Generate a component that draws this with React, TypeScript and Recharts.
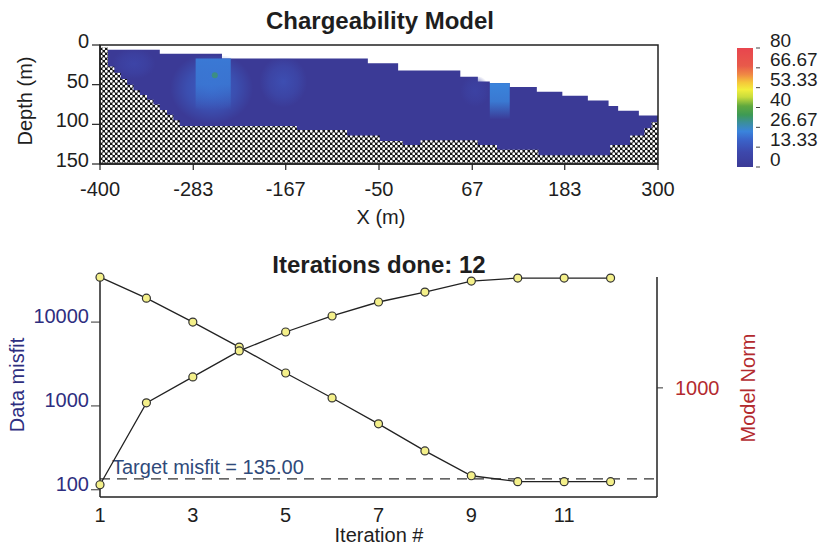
import React from "react";
import {
  ComposedChart, Area, Line, XAxis, YAxis, ReferenceArea, ReferenceDot,
  ReferenceLine, BarChart, Bar,
} from "recharts";

const FONT = "'Liberation Sans', Arial, sans-serif";
const INK = "#1e1e1e";
const NAVY = "#2e2e80";
const RED = "#b32a2e";

// ---- chargeability section ----
const xTicks = [-400, -283, -167, -50, 67, 183, 300];
const depthTicks = [0, 50, 100, 150];
// ground surface (top of model), step starts
const surfaceX = [-390, -325, -247, -64, -26, 52, 74, 89, 114, 148, 180, 212, 238, 250, 276, 300];
const surfaceDepth = [6, 11, 17, 23, 32, 40, 46, 48, 53, 59, 64, 70, 77, 83, 89, 89];
// depth of investigation (hatched below)
const doiX = [-400, -390, -382, -374, -366, -358, -350, -341, -333, -325, -316, -308, -300, -153, -90, -49, -20, 2, 74, 98, 150, 240, 265, 283, 292, 300];
const doiDepth = [3, 27, 35, 43, 50, 57, 63, 69, 75, 82, 88, 95, 102, 107, 114, 121, 126, 120, 126, 132, 139, 126, 114, 105, 97, 97];
// anomalies: extents and chargeability
const anomX1 = [-385, -312, -280, -200, 89, 52];
const anomX2 = [-330, -208, -236, -140, 114, 89];
const anomTop = [6, 14, 17, 17, 48, 40];
const anomBottom = [45, 104, 82, 82, 94, 80];
const anomValue = [8, 18, 22, 12, 24, 6];
const coreAnoms = [2, 4];
const peakX = -256;
const peakDepth = 38;
const peakValue = 34;

// ---- colour bar ----
const cbarTicks = [0, 13.33, 26.67, 40, 53.33, 66.67, 80];
const cbarStopVals = [0, 10, 18, 24, 30, 35, 41, 47, 52, 57, 62, 68, 80];
const cbarStopCols = ["#3b3a96", "#3d48ac", "#3b62c8", "#3a84dc", "#3b8f9a", "#3d9a55", "#5fa83e", "#c8dc3c", "#f2ee3c", "#f5c63a", "#f08a44", "#e85a4a", "#e8454e"];

// ---- inversion convergence ----
const iterations = [1, 2, 3, 4, 5, 6, 7, 8, 9, 10, 11, 12];
const dataMisfit = [34300, 19300, 10000, 5030, 2470, 1245, 611, 291, 147, 125, 125, 125];
const modelNorm = [70, 663, 1352, 2757, 4640, 7200, 10570, 13900, 18800, 20400, 20400, 20400];
const iterTicks = [1, 3, 5, 7, 9, 11];
const misfitTicks = [100, 1000, 10000];
const normTicks = [1000];
const targetMisfit = 135;

function hexToRgb(h: string) {
  const n = parseInt(h.slice(1), 16);
  return [(n >> 16) & 255, (n >> 8) & 255, n & 255];
}
function colorAt(v: number) {
  for (let i = 1; i < cbarStopVals.length; i++) {
    if (v <= cbarStopVals[i]) {
      const t = (v - cbarStopVals[i - 1]) / (cbarStopVals[i] - cbarStopVals[i - 1]);
      const a = hexToRgb(cbarStopCols[i - 1]), b = hexToRgb(cbarStopCols[i]);
      const c = a.map((x, k) => Math.round(x + (b[k] - x) * t));
      return `rgb(${c[0]},${c[1]},${c[2]})`;
    }
  }
  return cbarStopCols[cbarStopCols.length - 1];
}

const surfaceRows = surfaceX.map((x, i) => ({ x, depth: surfaceDepth[i] }));
const doiRows = doiX.map((x, i) => ({ x, depth: doiDepth[i] }));
const iterRows = iterations.map((iter, i) => ({ iter, misfit: dataMisfit[i], norm: modelNorm[i] }));

function tickText(opts: { anchor: "start" | "middle" | "end"; dx?: number; dy?: number; fill?: string; size?: number }) {
  return (props: any) => {
    const { x, y, payload } = props;
    return (
      <text x={x + (opts.dx ?? 0)} y={y + (opts.dy ?? 0)} textAnchor={opts.anchor} dominantBaseline="central"
        fill={opts.fill ?? INK} fontSize={opts.size ?? 20} fontFamily={FONT}>
        {payload.value}
      </text>
    );
  };
}

function CbarTick(props: any) {
  const { x, y, payload } = props;
  return (
    <g>
      <line x1={x + 3} x2={x + 7} y1={y} y2={y} stroke="#444" strokeWidth={1} />
      <text x={x + 17} y={y - 8} dominantBaseline="central" fill={INK} fontSize={19} fontFamily={FONT}>{payload.value}</text>
    </g>
  );
}

const abs = (left: number, top: number): React.CSSProperties => ({ position: "absolute", left, top });
const label = (x: number, y: number, rot = 0, extra: React.CSSProperties = {}): React.CSSProperties => ({
  position: "absolute", left: x, top: y, transform: `translate(-50%,-50%) rotate(${rot}deg)`,
  whiteSpace: "nowrap", fontFamily: FONT, fontSize: 20, color: INK, lineHeight: 1, ...extra,
});

export default function App() {
  return (
    <div style={{ position: "absolute", left: 0, top: 0, width: 828, height: 552, background: "#fff", overflow: "hidden" }}>
      <div style={label(380, 21, 0, { fontWeight: "bold", fontSize: 24 })}>Chargeability Model</div>
      <div style={label(25, 101, -90)}>Depth (m)</div>
      <div style={label(381, 217)}>X (m)</div>

      <div style={abs(0, 0)}>
        <ComposedChart width={828} height={230} margin={{ top: 45, right: 170, bottom: 26, left: 40 }}>
          <defs>
            <pattern id="hatch" width={5} height={5} patternUnits="userSpaceOnUse">
              <rect width={5} height={5} fill="#151515" />
              <circle cx={1.25} cy={1.25} r={1.4} fill="#fff" />
              <circle cx={3.75} cy={3.75} r={1.4} fill="#fff" />
            </pattern>
            {anomValue.map((v, i) => coreAnoms.includes(i) ? (
              <linearGradient key={i} id={`anom${i}`} x1="0" y1="0" x2="0" y2="1">
                <stop offset="0%" stopColor={colorAt(v)} stopOpacity={1} />
                <stop offset="50%" stopColor={colorAt(v)} stopOpacity={0.85} />
                <stop offset="100%" stopColor={colorAt(v)} stopOpacity={0} />
              </linearGradient>
            ) : (
              <radialGradient key={i} id={`anom${i}`} cx="50%" cy="45%" r="50%">
                <stop offset="0%" stopColor={colorAt(v)} stopOpacity={0.95} />
                <stop offset="60%" stopColor={colorAt(v)} stopOpacity={0.5} />
                <stop offset="100%" stopColor={colorAt(v)} stopOpacity={0} />
              </radialGradient>
            ))}
          </defs>
          <XAxis type="number" dataKey="x" domain={[-400, 300]} ticks={xTicks} allowDataOverflow height={40}
            tickSize={6} tickMargin={0} tick={tickText({ anchor: "middle", dy: 19 })}
            axisLine={{ stroke: "#222", strokeWidth: 1.5 }} tickLine={{ stroke: "#222", strokeWidth: 1.2 }} />
          <YAxis type="number" domain={[0, 150]} reversed ticks={depthTicks} width={60} allowDataOverflow
            tickSize={8} tickMargin={3} tick={tickText({ anchor: "end", dy: -4 })}
            axisLine={{ stroke: "#222", strokeWidth: 1.5 }} tickLine={{ stroke: "#222", strokeWidth: 1.2 }} />
          <Area data={surfaceRows} dataKey={(d: any) => [d.depth, 150]} type="stepAfter" fill={colorAt(0)}
            fillOpacity={1} stroke="none" isAnimationActive={false} />
          {anomValue.map((_, i) => (
            <ReferenceArea key={i} x1={anomX1[i]} x2={anomX2[i]} y1={anomTop[i]} y2={anomBottom[i]}
              fill={`url(#anom${i})`} fillOpacity={1} stroke="none" />
          ))}
          <ReferenceDot x={peakX} y={peakDepth} r={3} fill={colorAt(peakValue)} fillOpacity={0.7} stroke="none" />
          <Area data={doiRows} dataKey={(d: any) => [d.depth, 150]} type="stepAfter" fill="url(#hatch)"
            fillOpacity={1} stroke="none" isAnimationActive={false} />
          <ReferenceArea x1={-400} x2={300} y1={0} y2={150} fill="none" stroke="#222" strokeWidth={1.5} />
        </ComposedChart>
      </div>

      <div style={abs(737, 20)}>
        <BarChart width={120} height={152} data={[{ name: "scale", value: 80 }]} barCategoryGap={0}
          margin={{ top: 28, right: 0, bottom: 5, left: 0 }}>
          <defs>
            <linearGradient id="cbar" x1="0" y1="1" x2="0" y2="0">
              {cbarStopVals.map((v, i) => (
                <stop key={i} offset={`${(v / 80) * 100}%`} stopColor={cbarStopCols[i]} />
              ))}
            </linearGradient>
          </defs>
          <XAxis dataKey="name" hide />
          <YAxis orientation="right" domain={[0, 80]} ticks={cbarTicks} width={104} axisLine={false}
            tickLine={false} tickSize={0} tickMargin={0} tick={<CbarTick />} interval={0} />
          <Bar dataKey="value" fill="url(#cbar)" isAnimationActive={false} />
        </BarChart>
      </div>

      <div style={label(379, 265, 0, { fontWeight: "bold", fontSize: 24 })}>Iterations done: 12</div>
      <div style={label(17, 385, -90, { color: NAVY })}>Data misfit</div>
      <div style={label(748, 388, -90, { color: RED })}>Model Norm</div>
      <div style={label(379, 535)}>Iteration #</div>

      <div style={abs(0, 240)}>
        <ComposedChart width={828} height={312} data={iterRows} margin={{ top: 37, right: 61, bottom: 25, left: 10 }}>
          <XAxis type="number" dataKey="iter" domain={[1, 13]} ticks={iterTicks} height={30}
            tickLine={false} tickSize={0} tickMargin={0} tick={tickText({ anchor: "middle", dy: 18 })}
            axisLine={{ stroke: "#222", strokeWidth: 1.5 }} />
          <YAxis yAxisId="misfit" scale="log" domain={[82, 34500]} ticks={misfitTicks} width={90}
            tickSize={9} tickMargin={2} tick={tickText({ anchor: "end", dy: -6, fill: NAVY })}
            axisLine={{ stroke: "#222", strokeWidth: 1.5 }} tickLine={{ stroke: "#333", strokeWidth: 1 }} />
          <YAxis yAxisId="norm" orientation="right" scale="log" domain={[50, 21000]} ticks={normTicks}
            width={110} tickSize={6} tickMargin={12} tick={tickText({ anchor: "start", fill: RED })}
            axisLine={{ stroke: "#222", strokeWidth: 1.5 }} tickLine={{ stroke: "#333", strokeWidth: 1 }} />
          <ReferenceLine yAxisId="misfit" y={targetMisfit} stroke="#333" strokeWidth={1.2} strokeDasharray="10 7"
            label={(p: any) => (
              <text x={p.viewBox.x + 12} y={p.viewBox.y - 5} fill="#2f4a7a" fontSize={20} fontFamily={FONT}>
                Target misfit = 135.00
              </text>
            )} />
          <Line yAxisId="misfit" dataKey="misfit" stroke="#222" strokeWidth={1.3} isAnimationActive={false}
            dot={{ r: 4, fill: "#f4f08a", stroke: "#333", strokeWidth: 1.2 }} />
          <Line yAxisId="norm" dataKey="norm" stroke="#222" strokeWidth={1.3} isAnimationActive={false}
            dot={{ r: 4, fill: "#f4f08a", stroke: "#333", strokeWidth: 1.2 }} />
        </ComposedChart>
      </div>
    </div>
  );
}
